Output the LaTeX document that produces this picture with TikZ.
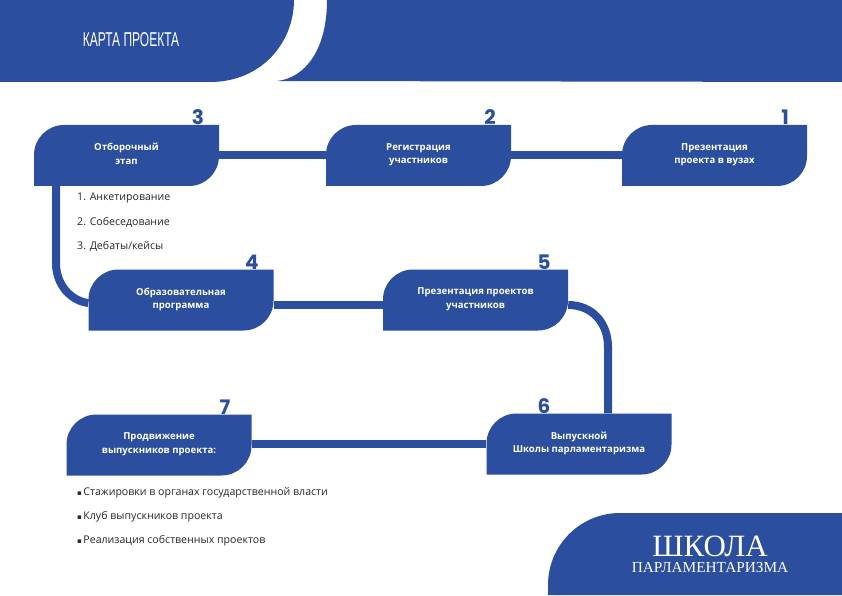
\documentclass[tikz,border=0pt]{standalone}
\usepackage{fontspec}
\setmainfont{Open Sans}
\newfontfamily\titlefont[FakeStretch=0.6]{Liberation Sans}
\newfontfamily\numfont{Poppins}
\newfontfamily\logofont{Liberation Serif}
\newfontfamily\markfont{DejaVu Sans}
\definecolor{schoolblue}{HTML}{2B4E9E}
\tikzset{
  stagetext/.style={text=white, align=center, font=\fontsize{9.6}{13.5}\selectfont\bfseries, minimum width=185pt, minimum height=61pt, inner sep=0pt},
  stageline/.style={draw=schoolblue, line width=8pt},
  stagenum/.style={text=schoolblue, font=\fontsize{20}{20}\selectfont\numfont\bfseries, inner sep=0pt},
  listtext/.style={text=black!85, anchor=west, font=\fontsize{10.6}{12}\selectfont, inner sep=0pt},
}
% box with two round corners, text node on top
\newcommand{\stagebox}[4]{
  \fill[schoolblue] (#2-92.5,#3-30.5) [rounded corners=30pt] -- (#2-92.5,#3+30.5) [sharp corners] -- (#2+92.5,#3+30.5) [rounded corners=30pt] -- (#2+92.5,#3-30.5) [sharp corners] -- cycle;
  \node[stagetext] (#1) at (#2,#3) {#4\\[-10pt]\mbox{}};
}
\newcommand{\listmark}{{\markfont\fontsize{7}{7}\selectfont ▪}\kern1.5pt}
\begin{document}
\begin{tikzpicture}[x=1pt,y=1pt]
  \useasboundingbox (0,0) rectangle (842,595);
  % header and footer
  \fill[schoolblue] (0,595) -- (294,595) .. controls (294,553) and (262,513) .. (210,513) -- (0,513) -- cycle;
  \fill[schoolblue] (327,595) -- (842,595) -- (842,513) -- (277,514) .. controls (305,517) and (327,545) .. (327,595) -- cycle;
  \fill[schoolblue] (842,0) -- (548,0) [rounded corners=72pt] -- (548,82) [sharp corners] -- (842,82) -- cycle;
  \node[text=white, font=\fontsize{20}{20}\selectfont\titlefont] (title) at (131,555) {КАРТА ПРОЕКТА};
  % stages
  \stagebox{stageone}{714.5}{439.5}{Презентация\\проекта в вузах}
  \stagebox{stagetwo}{418.5}{439.5}{Регистрация\\участников}
  \stagebox{stagethree}{126.5}{439.5}{Отборочный\\этап}
  \stagebox{stagefour}{181}{295}{Образовательная\\программа}
  \stagebox{stagefive}{475.5}{295}{Презентация проектов\\участников}
  \stagebox{stagesix}{579}{151}{Выпускной\\Школы парламентаризма}
  \stagebox{stageseven}{159}{150}{Продвижение\\выпускников проекта:}
  % connectors
  \draw[stageline] (stagethree) -- (stagetwo);
  \draw[stageline] (stagetwo) -- (stageone);
  \draw[stageline] (stagesix.west) -- (stagesix.west -| stageseven.east);
  \draw[stageline] ([yshift=-5pt]stagefive.west) -- ([yshift=-5pt]stagefour.east);
  \draw[stageline] ([xshift=-70.5pt]stagethree.south) -- ++(0,-77) .. controls ++(0,-22) and ([xshift=-17pt,yshift=-1pt]stagefour.west) .. ([yshift=-3pt]stagefour.west);
  \draw[stageline] ([yshift=-5pt]stagefive.east) .. controls ++(24,0) and (608,272) .. (608,248) -- ([xshift=29pt]stagesix.north);
  % numbers
  \node[stagenum] (numone) at (785,478) {1};
  \node[stagenum] (numtwo) at (490,478) {2};
  \node[stagenum] (numthree) at (198,478) {3};
  \node[stagenum] (numfour) at (252,333) {4};
  \node[stagenum] (numfive) at (544,333) {5};
  \node[stagenum] (numsix) at (544,189) {6};
  \node[stagenum] (numseven) at (225,188) {7};
  % lists
  \node[listtext] (itemone) at (77,397) {1. Анкетирование};
  \node[listtext] (itemtwo) at (77,373) {2. Собеседование};
  \node[listtext] (itemthree) at (77,349) {3. Дебаты/кейсы};
  \node[listtext] (bulletone) at (77,102) {\listmark Стажировки в органах государственной власти};
  \node[listtext] (bullettwo) at (77,78) {\listmark Клуб выпускников проекта};
  \node[listtext] (bulletthree) at (77,54) {\listmark Реализация собственных проектов};
  % logo
  \node[text=white, font=\fontsize{31}{31}\selectfont\logofont] (logotop) at (710,49) {ШКОЛА};
  \node[text=white, font=\fontsize{15.3}{15.3}\selectfont\logofont] (logobottom) at (710,27) {ПАРЛАМЕНТАРИЗМА};
\end{tikzpicture}
\end{document}
